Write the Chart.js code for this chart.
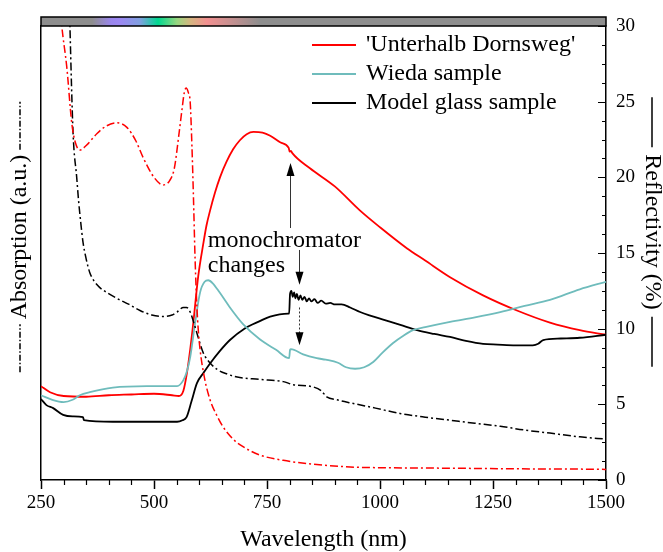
<!DOCTYPE html>
<html lang="en">
<head>
<meta charset="UTF-8">
<title>Reflectivity and absorption</title>
<script src="https://cdn.jsdelivr.net/npm/chart.js"></script>
<style>
  html, body { margin: 0; padding: 0; background: #fff; }
</style>
</head>
<body>
<canvas id="chart" width="663" height="552"></canvas>
<script>
// reflectivity (right axis, %)
const redX  = [250, 270, 300, 350, 400, 450, 500, 540, 555, 565, 573, 580, 587, 598, 609, 616, 624, 635, 646, 660, 675, 690, 705, 720, 740, 757, 780, 798, 800, 803, 806, 845, 900, 956, 1000, 1060, 1100, 1155, 1228, 1303, 1376, 1442, 1500];
const redR  = [6.2, 5.8, 5.55, 5.5, 5.6, 5.65, 5.7, 5.6, 5.55, 5.9, 7.1, 8.6, 10.4, 13.5, 15.6, 16.8, 17.8, 19.0, 20.0, 21.0, 21.85, 22.45, 22.85, 23.0, 22.95, 22.75, 22.3, 21.95, 21.7, 21.75, 21.6, 20.6, 19.4, 17.8, 16.7, 15.3, 14.5, 13.4, 12.2, 11.2, 10.4, 9.9, 9.6];

const cyanX = [250, 275, 300, 320, 336, 358, 409, 484, 551, 565, 573, 580, 591, 602, 612, 620, 630, 645, 668, 697, 734, 770, 799, 801, 803, 830, 860, 880, 907, 925, 945, 965, 985, 1005, 1029, 1050, 1073, 1100, 1155, 1210, 1266, 1320, 1376, 1442, 1500];
const cyanR = [5.6, 5.3, 5.15, 5.3, 5.6, 5.8, 6.1, 6.2, 6.2, 6.6, 7.2, 8.1, 10.4, 12.4, 13.1, 13.2, 13.0, 12.4, 11.4, 10.3, 9.3, 8.6, 8.05, 8.6, 8.65, 8.3, 8.05, 7.95, 7.75, 7.45, 7.35, 7.45, 7.8, 8.4, 9.05, 9.5, 9.9, 10.1, 10.45, 10.75, 11.1, 11.5, 11.9, 12.6, 13.1];

const blackX = [250, 262, 277, 299, 320, 343, 345, 409, 480, 551, 563, 572, 583, 595, 610, 624, 645, 668, 700, 734, 757, 797, 799, 801, 804, 807, 810, 813, 816, 820, 824, 828, 833, 838, 843, 848, 855, 862, 870, 880, 890, 900, 915, 934, 956, 980, 1007, 1045, 1082, 1120, 1155, 1190, 1228, 1260, 1300, 1338, 1350, 1361, 1400, 1442, 1500];
const blackR = [5.35, 4.95, 4.75, 4.3, 4.2, 4.15, 3.95, 3.85, 3.85, 3.85, 3.95, 4.15, 5.2, 6.4, 7.1, 7.7, 8.5, 9.25, 10.0, 10.5, 10.8, 11.0, 11.0, 12.3, 12.5, 12.1, 12.4, 12.0, 12.3, 11.9, 12.2, 11.9, 12.1, 11.8, 12.0, 11.8, 11.95, 11.7, 11.85, 11.65, 11.7, 11.6, 11.6, 11.4, 11.1, 10.85, 10.6, 10.25, 9.9, 9.65, 9.45, 9.2, 9.0, 8.95, 8.9, 8.9, 9.0, 9.25, 9.35, 9.4, 9.6];

// absorption (left axis, arbitrary units)
const redAbsX = [285, 296, 307, 318, 326, 336, 350, 374, 395, 418, 440, 460, 476, 500, 520, 535, 545, 555, 562, 567, 571, 576, 580, 584, 587, 591, 595, 598, 602, 612, 624, 640, 653, 675, 697, 734, 786, 850, 934, 1050, 1155, 1300, 1442, 1500];
const redAbs  = [34, 30, 27.3, 23.6, 22.3, 21.8, 22.1, 22.9, 23.4, 23.6, 23.3, 22.4, 21.3, 20.0, 19.5, 19.8, 20.6, 22.8, 24.5, 25.6, 25.9, 25.6, 25.0, 22.0, 19.0, 14.5, 11.4, 9.9, 8.6, 6.7, 5.3, 4.2, 3.5, 2.7, 2.2, 1.65, 1.3, 1.05, 0.86, 0.8, 0.78, 0.74, 0.72, 0.7];

const blackAbsX = [310, 314, 321, 329, 333, 338, 343, 350, 358, 374, 395, 418, 445, 469, 495, 520, 540, 551, 565, 572, 580, 588, 595, 609, 625, 640, 662, 684, 734, 786, 808, 852, 870, 882, 905, 934, 990, 1044, 1100, 1155, 1210, 1266, 1320, 1376, 1442, 1500];
const blackAbs  = [35, 30, 22.9, 20.0, 18.5, 17.0, 15.7, 14.6, 13.7, 12.9, 12.4, 12.0, 11.6, 11.2, 10.9, 10.8, 10.9, 11.1, 11.4, 11.4, 11.1, 10.4, 9.7, 8.4, 7.7, 7.3, 7.0, 6.8, 6.65, 6.5, 6.3, 6.15, 5.9, 5.5, 5.3, 5.1, 4.75, 4.4, 4.15, 3.95, 3.75, 3.55, 3.3, 3.1, 2.85, 2.7];

const legendLabels = ["'Unterhalb Dornsweg'", 'Wieda sample', 'Model glass sample'];
const legendColors = ['#ff0000', '#6fbcbc', '#000000'];

// visible spectrum strip on top (nm, colour)
const stripNm     = [363, 405, 425, 469, 509, 551, 580, 617, 668, 734];
const stripColors = ['#8e8e8e', '#9a86ec', '#9c88f2', '#80a0e0', '#00d890', '#98d680', '#d4b680', '#f29090', '#c89090', '#8e8e8e'];

const serif = "'Liberation Serif', 'Times New Roman', serif";

function pts(xs, ys) {
  return xs.map((x, i) => ({ x: x, y: ys[i] }));
}

const dashDot = [8, 3, 2, 3];

const extras = {
  id: 'extras',
  afterDatasetsDraw(chart) {
    const ctx = chart.ctx;
    const xs = chart.scales.x, ys = chart.scales.y;

    // arrows
    function arrow(xv, y0, y1, dotted) {
      const px = Math.round(xs.getPixelForValue(xv)) + 0.5;
      const p0 = ys.getPixelForValue(y0), p1 = ys.getPixelForValue(y1);
      const dir = p1 < p0 ? -1 : 1;
      ctx.save();
      ctx.strokeStyle = '#333';
      ctx.lineWidth = 1;
      if (dotted) ctx.setLineDash([2, 2]);
      ctx.beginPath();
      ctx.moveTo(px, p0);
      ctx.lineTo(px, p1 - dir * 10);
      ctx.stroke();
      ctx.setLineDash([]);
      ctx.fillStyle = '#000';
      ctx.beginPath();
      ctx.moveTo(px, p1);
      ctx.lineTo(px - 4, p1 - dir * 13);
      ctx.lineTo(px + 4, p1 - dir * 13);
      ctx.closePath();
      ctx.fill();
      ctx.restore();
    }
    arrow(800, 16.65, 20.95, false);
    arrow(821, 15.2, 12.9, false);
    arrow(821, 11.4, 8.9, true);

    ctx.save();
    ctx.fillStyle = '#000';
    ctx.font = '24px ' + serif;
    ctx.textAlign = 'left';
    ctx.textBaseline = 'middle';
    const tx = xs.getPixelForValue(619);
    ctx.fillText('monochromator', tx, ys.getPixelForValue(15.8));
    ctx.fillText('changes', tx, ys.getPixelForValue(14.15));
    ctx.restore();
  },
  afterDraw(chart) {
    const ctx = chart.ctx;
    const xs = chart.scales.x, ys = chart.scales.y;
    const ca = chart.chartArea;

    // spectrum strip
    ctx.save();
    ctx.fillStyle = '#8e8e8e';
    ctx.fillRect(ca.left, ca.top - 9, ca.right - ca.left, 9);
    const g0 = xs.getPixelForValue(stripNm[0]);
    const g1 = xs.getPixelForValue(stripNm[stripNm.length - 1]);
    const grad = ctx.createLinearGradient(g0, 0, g1, 0);
    stripNm.forEach((nm, i) => grad.addColorStop((nm - stripNm[0]) / (stripNm[stripNm.length - 1] - stripNm[0]), stripColors[i]));
    ctx.fillStyle = grad;
    ctx.fillRect(g0, ca.top - 9, g1 - g0, 9);
    ctx.strokeStyle = '#000';
    ctx.lineWidth = 1.5;
    ctx.strokeRect(ca.left, ca.top - 9, ca.right - ca.left, 9);
    ctx.restore();

    // minor ticks
    ctx.save();
    ctx.strokeStyle = '#000';
    ctx.lineWidth = 1.2;
    ctx.beginPath();
    for (let v = 300; v < 1500; v += 50) {
      if (v % 250 === 0) continue;
      const px = Math.round(xs.getPixelForValue(v)) + 0.5;
      ctx.moveTo(px, ca.bottom);
      ctx.lineTo(px, ca.bottom + 5);
    }
    for (let v = 0; v <= 30; v += 1.25) {
      const py = Math.round(ys.getPixelForValue(v)) + 0.5;
      const len = (v % 5 === 0) ? 8 : 4;
      ctx.moveTo(ca.right, py);
      ctx.lineTo(ca.right - len, py);
    }
    ctx.stroke();
    ctx.restore();

    // legend
    ctx.save();
    ctx.font = '24px ' + serif;
    ctx.textBaseline = 'middle';
    ctx.textAlign = 'left';
    legendLabels.forEach((lab, i) => {
      const y = 45 + i * 29;
      ctx.strokeStyle = legendColors[i];
      ctx.lineWidth = 1.8;
      ctx.beginPath();
      ctx.moveTo(312, y);
      ctx.lineTo(356, y);
      ctx.stroke();
      ctx.fillStyle = '#000';
      ctx.fillText(lab, 366, y);
    });
    ctx.restore();

    // y axis titles with line samples
    function yTitle(text, cx, cy, rot, gap, len, dash) {
      ctx.save();
      ctx.translate(cx, cy);
      ctx.rotate(rot);
      ctx.font = '24px ' + serif;
      ctx.fillStyle = '#000';
      ctx.textAlign = 'center';
      ctx.textBaseline = 'middle';
      ctx.fillText(text, 0, 0);
      const w = ctx.measureText(text).width / 2;
      ctx.strokeStyle = '#000';
      ctx.lineWidth = 1.5;
      ctx.setLineDash(dash);
      ctx.beginPath();
      ctx.moveTo(-w - gap - len, 0);
      ctx.lineTo(-w - gap, 0);
      ctx.moveTo(w + gap, 0);
      ctx.lineTo(w + gap + len, 0);
      ctx.stroke();
      ctx.restore();
    }
    yTitle('Absorption (a.u.)', 20, 237, -Math.PI / 2, 5, 48, [6, 2, 1.5, 2]);
    yTitle('Reflectivity (%)', 652, 232, Math.PI / 2, 7, 50, []);
  }
};

const tickFont = { family: serif, size: 19 };

new Chart(document.getElementById('chart'), {
  type: 'line',
  data: {
    datasets: [
      { data: pts(redAbsX, redAbs), yAxisID: 'y2', borderColor: '#ff0000', borderWidth: 1.5, borderDash: dashDot },
      { data: pts(blackAbsX, blackAbs), yAxisID: 'y2', borderColor: '#000000', borderWidth: 1.5, borderDash: dashDot },
      { data: pts(cyanX, cyanR), yAxisID: 'y', borderColor: '#6fbcbc', borderWidth: 1.8 },
      { data: pts(blackX, blackR), yAxisID: 'y', borderColor: '#000000', borderWidth: 1.8 },
      { data: pts(redX, redR), yAxisID: 'y', borderColor: '#ff0000', borderWidth: 1.8 }
    ]
  },
  options: {
    responsive: false,
    animation: false,
    events: [],
    layout: { padding: { top: 26, left: 0, right: 0, bottom: 0 } },
    elements: {
      point: { radius: 0 },
      line: { cubicInterpolationMode: 'monotone', fill: false }
    },
    plugins: {
      legend: { display: false },
      tooltip: { enabled: false }
    },
    scales: {
      x: {
        type: 'linear',
        min: 250,
        max: 1500,
        ticks: { stepSize: 250, font: tickFont, color: '#000', padding: 3, maxRotation: 0, autoSkip: false, callback: v => String(v) },
        grid: { drawOnChartArea: false, drawTicks: true, tickLength: 9, tickColor: '#000', tickWidth: 1.5 },
        border: { color: '#000', width: 1.5 },
        title: { display: true, text: 'Wavelength (nm)', color: '#000', font: { family: serif, size: 24, lineHeight: 1 }, padding: 0 },
        afterFit: s => { s.height = 72; }
      },
      y: {
        position: 'right',
        min: 0,
        max: 30,
        ticks: { stepSize: 5, font: tickFont, color: '#000', padding: 10, callback: v => String(v) },
        grid: { drawOnChartArea: false, drawTicks: false },
        border: { color: '#000', width: 1.5 },
        afterFit: s => { s.width = 57; }
      },
      y2: {
        position: 'left',
        min: 0,
        max: 30,
        ticks: { display: false },
        grid: { display: false },
        border: { display: true, color: '#000', width: 1.5 },
        afterFit: s => { s.width = 41; }
      }
    }
  },
  plugins: [extras]
});
</script>
</body>
</html>
